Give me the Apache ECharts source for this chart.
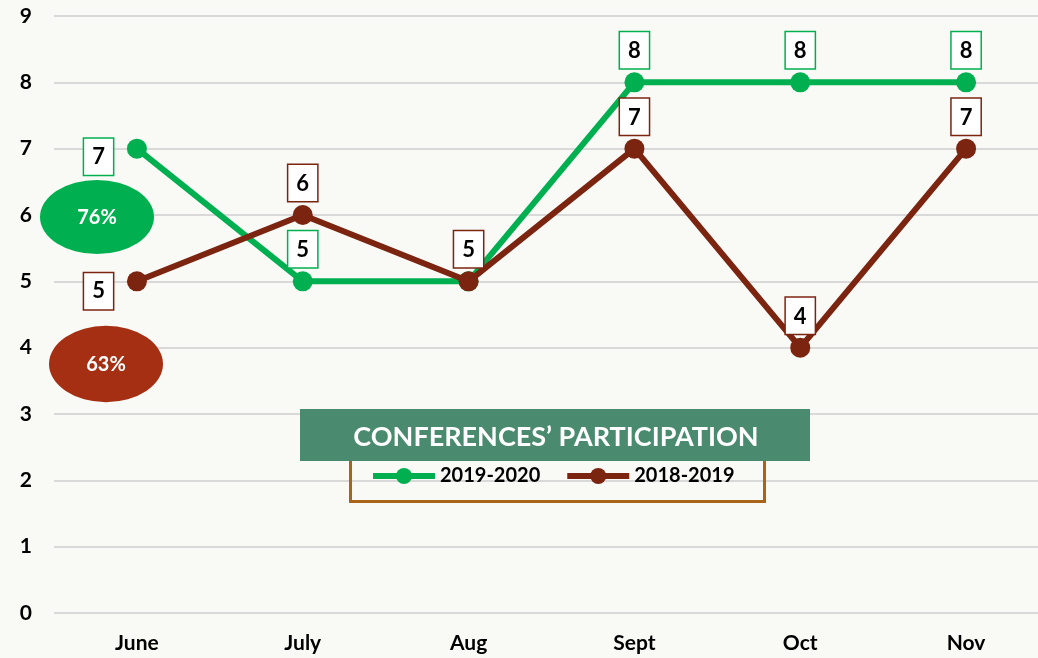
<!DOCTYPE html>
<html>
<head>
<meta charset="utf-8">
<script src="https://cdn.jsdelivr.net/npm/echarts@6/dist/echarts.min.js"></script>
<style>
  html, body { margin: 0; padding: 0; background: #f9f9f6; overflow: hidden; }
  /* chart is a bit wider than the window: the plot runs off the right edge */
  #chart { width: 1049px; height: 658px; }
</style>
</head>
<body>
<div id="chart"></div>
<script>
const months = ["June", "July", "Aug", "Sept", "Oct", "Nov"];
const year2019 = [7, 5, 5, 8, 8, 8];
const year2018 = [5, 6, 5, 7, 4, 7];
const yTicks = [0, 1, 2, 3, 4, 5, 6, 7, 8, 9];
const title = "CONFERENCES’ PARTICIPATION";
const pctGreen = "76%";
const pctBrown = "63%";

const GREEN = "#00b050";
const BROWN = "#7b2410";
const FONT = "Lato";

// label box style shared by both series
function boxLabel(color) {
  return {
    show: true,
    position: "top",
    distance: 4,
    color: "#000",
    fontFamily: FONT,
    fontWeight: "bold",
    fontSize: 22,
    backgroundColor: "#fff",
    borderColor: color,
    borderWidth: 1.5,
    padding: [8, 8, 6, 8],
  };
}

// June labels sit to the left of the point; green Aug label is hidden under brown one
const greenData = year2019.map((v, i) => {
  if (i === 0) return { value: v, label: { position: "left", distance: 14, offset: [0, 8] } };
  if (i === 2) return { value: v, label: { show: false } };
  return v;
});
const brownData = year2018.map((v, i) => {
  if (i === 0) return { value: v, label: { position: "left", distance: 14, offset: [0, 10] } };
  return v;
});

let myChart = echarts.init(document.getElementById("chart"));
let option = {
  backgroundColor: "#f9f9f6",
  animation: false,
  grid: { left: 54, right: 0, top: 16, bottom: 45 },
  xAxis: {
    type: "category",
    data: months,
    axisLine: { show: false },
    axisTick: { show: false },
    axisLabel: { color: "#000", fontFamily: FONT, fontWeight: "bold", fontSize: 21, margin: 20 },
  },
  yAxis: {
    type: "value",
    min: 0,
    max: 9,
    interval: 1,
    axisLabel: {
      color: "#000", fontFamily: FONT, fontWeight: "bold", fontSize: 21, margin: 22,
      formatter: (v) => (yTicks.indexOf(v) >= 0 ? String(v) : ""),
    },
    splitLine: { lineStyle: { color: "#d9d9d9", width: 2 } },
  },
  legend: {
    left: 365,
    top: 461,
    itemWidth: 62,
    itemHeight: 20,
    itemGap: 24,
    lineStyle: { width: 6 },
    textStyle: { color: "#000", fontFamily: FONT, fontWeight: "bold", fontSize: 20 },
    data: ["2019-2020", "2018-2019"],
  },
  series: [
    {
      name: "2019-2020",
      type: "line",
      data: greenData,
      color: GREEN,
      symbol: "circle",
      symbolSize: 20,
      lineStyle: { width: 6, color: GREEN },
      itemStyle: { color: GREEN },
      label: boxLabel(GREEN),
      z: 2,
    },
    {
      name: "2018-2019",
      type: "line",
      data: brownData,
      color: BROWN,
      symbol: "circle",
      symbolSize: 20,
      lineStyle: { width: 6, color: BROWN },
      itemStyle: { color: BROWN },
      label: boxLabel(BROWN),
      z: 3,
    },
  ],
  graphic: [
    {
      type: "rect",
      left: 348, top: 438, z: 1,
      shape: { width: 414, height: 61 },
      style: { fill: "none", stroke: "#a86418", lineWidth: 3 },
    },
    {
      type: "rect",
      left: 300, top: 409, z: 10,
      shape: { width: 510, height: 52 },
      style: { fill: "#4a8a6e" },
    },
    {
      type: "text",
      x: 556, y: 437, z: 11,
      style: {
        text: title, fill: "#fff", fontFamily: FONT, fontWeight: "bold", fontSize: 27,
        align: "center", verticalAlign: "middle",
      },
    },
    {
      type: "circle",
      x: 97, y: 217, scaleY: 0.65, z: 5,
      shape: { cx: 0, cy: 0, r: 57 },
      style: { fill: GREEN },
    },
    {
      type: "text",
      x: 97, y: 218, z: 6,
      style: {
        text: pctGreen, fill: "#fff", fontFamily: FONT, fontWeight: "bold", fontSize: 20,
        align: "center", verticalAlign: "middle",
      },
    },
    {
      type: "circle",
      x: 106, y: 364, scaleY: 0.67, z: 5,
      shape: { cx: 0, cy: 0, r: 57 },
      style: { fill: "#a52f12" },
    },
    {
      type: "text",
      x: 106, y: 365, z: 6,
      style: {
        text: pctBrown, fill: "#fff", fontFamily: FONT, fontWeight: "bold", fontSize: 20,
        align: "center", verticalAlign: "middle",
      },
    },
  ],
};
myChart.setOption(option);
</script>
</body>
</html>
